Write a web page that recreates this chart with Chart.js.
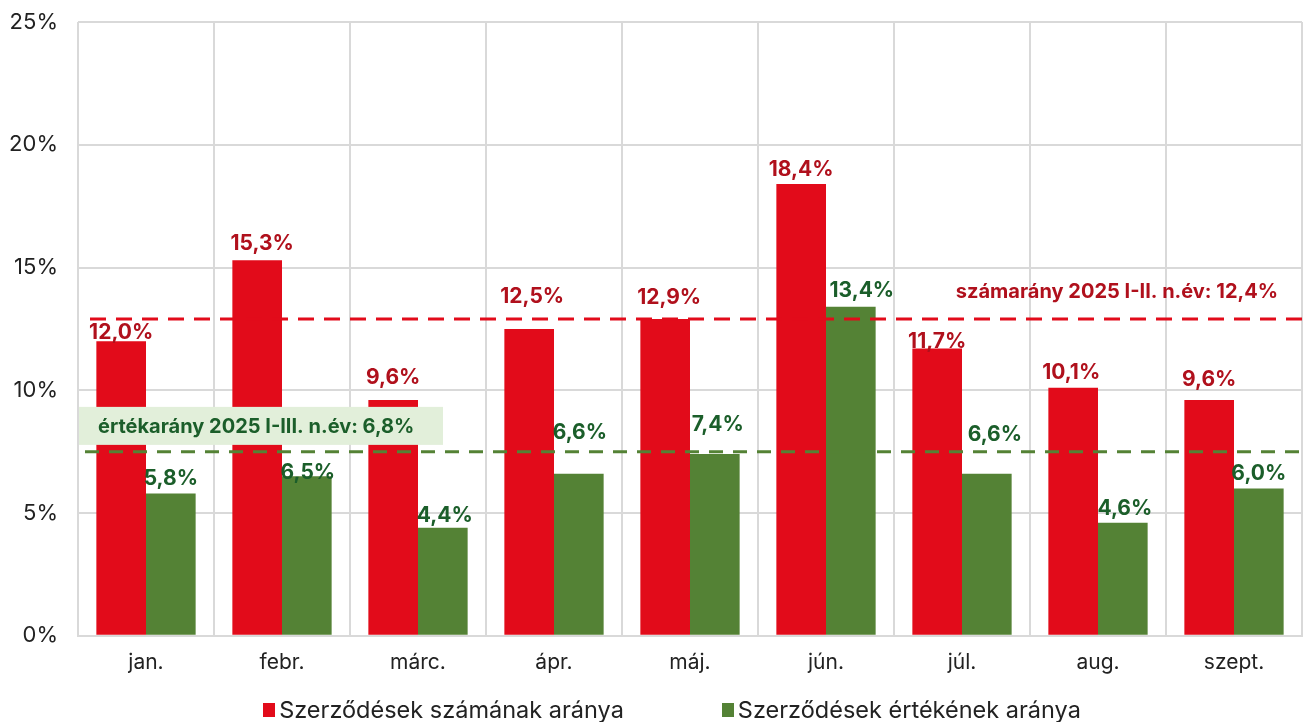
<!DOCTYPE html>
<html>
<head>
<meta charset="utf-8">
<script src="https://cdn.jsdelivr.net/npm/chart.js@4.4.1/dist/chart.umd.min.js"></script>
<style>
  html, body { margin: 0; padding: 0; background: #fff; }
  #wrap { position: relative; width: 1310px; height: 722px; }
  #legend {
    position: absolute; left: 34px; right: 0; top: 695px;
    display: flex; justify-content: center; gap: 98px;
    font-family: Inter, sans-serif; font-size: 23.5px; color: #222;
  }
  #legend span.item { display: flex; align-items: center; }
  #legend i { display: inline-block; width: 12px; height: 14px; margin-right: 4px; }
</style>
</head>
<body>
<div id="wrap">
  <canvas id="c" width="1310" height="722"></canvas>
  <div id="legend"></div>
</div>
<script>
// ─── Data ─────────────────────────────────────────────
const months = ["jan.", "febr.", "márc.", "ápr.", "máj.", "jún.", "júl.", "aug.", "szept."];
const countShare = [12.0, 15.3, 9.6, 12.5, 12.9, 18.4, 11.7, 10.1, 9.6];
const valueShare = [5.8, 6.5, 4.4, 6.6, 7.4, 13.4, 6.6, 4.6, 6.0];
const seriesNames = ["Szerződések számának aránya", "Szerződések értékének aránya"];
const yTicks = [0, 5, 10, 15, 20, 25];
const countAvgLine = 12.9;   // drawn position of the dashed red line
const valueAvgLine = 7.5;    // drawn position of the dashed green line
const countAvgText = "számarány 2025 I-II. n.év: 12,4%";
const valueAvgText = "értékarány 2025 I-III. n.év: 6,8%";

const RED = "#e20b1a";
const GREEN = "#548235";
const RED_TXT = "#b0101c";
const GREEN_TXT = "#1b5e2a";

const pct = (v) => v.toFixed(1).replace(".", ",") + "%";

// per-label nudges so labels dodge the reference lines (px above bar top / px right)
const labelLift = [
  [8, 16, 22, 32, 21, 14, 7, 15, 20],
  [15, 4, 12, 41, 29, 16, 39, 14, 15],
];
const labelShift = [
  [0, 5, 0, 3, 4, 0, 0, -2, 0],
  [0, 1, 2, 1, 3, 11, 8, 2, 0],
];

// ─── Plugins ──────────────────────────────────────────
const refLines = {
  id: "refLines",
  afterDatasetsDraw(chart) {
    const { ctx, chartArea, scales } = chart;
    const y = scales.y;
    ctx.save();
    ctx.lineWidth = 3;

    ctx.strokeStyle = RED;
    ctx.setLineDash([16, 10]);
    let py = y.getPixelForValue(countAvgLine);
    ctx.beginPath();
    ctx.moveTo(chartArea.left + 12, py);
    ctx.lineTo(chart.width, py);
    ctx.stroke();

    ctx.strokeStyle = GREEN;
    ctx.setLineDash([14, 10]);
    py = y.getPixelForValue(valueAvgLine);
    ctx.beginPath();
    ctx.moveTo(chartArea.left + 7, py);
    ctx.lineTo(chartArea.right + 4, py);
    ctx.stroke();
    ctx.setLineDash([]);

    // green caption box
    const by = y.getPixelForValue(8.55);
    ctx.fillStyle = "#e2efda";
    ctx.fillRect(chartArea.left + 1, by - 19, 364, 38);
    ctx.font = "bold 20px Inter, sans-serif";
    ctx.textAlign = "left";
    ctx.textBaseline = "middle";
    ctx.fillStyle = GREEN_TXT;
    ctx.fillText(valueAvgText, chartArea.left + 20, by + 1);

    // red caption
    ctx.fillStyle = RED_TXT;
    ctx.textAlign = "right";
    ctx.fillText(countAvgText, chartArea.right - 24, y.getPixelForValue(14.0));

    // value labels
    ctx.font = "bold 21px Inter, sans-serif";
    ctx.textAlign = "center";
    chart.data.datasets.forEach((ds, di) => {
      const meta = chart.getDatasetMeta(di);
      ctx.fillStyle = di === 0 ? RED_TXT : GREEN_TXT;
      meta.data.forEach((bar, i) => {
        ctx.fillText(pct(ds.data[i]), bar.x + labelShift[di][i], bar.y - labelLift[di][i]);
      });
    });
    ctx.restore();
  },
};

// ─── Chart ────────────────────────────────────────────
const ctx = document.getElementById("c").getContext("2d");
new Chart(ctx, {
  type: "bar",
  data: {
    labels: months,
    datasets: [
      { label: seriesNames[0], data: countShare, backgroundColor: RED },
      { label: seriesNames[1], data: valueShare, backgroundColor: GREEN },
    ],
  },
  options: {
    responsive: false,
    animation: false,
    categoryPercentage: 0.73,
    barPercentage: 1.0,
    layout: { padding: { top: 22, right: 8, bottom: 33, left: 0 } },
    plugins: { legend: { display: false }, tooltip: { enabled: false } },
    scales: {
      x: {
        grid: { color: "#d9d9d9", lineWidth: 2, drawTicks: false },
        border: { color: "#d9d9d9", width: 2 },
        ticks: { color: "#222", font: { family: "Inter, sans-serif", size: 21 }, padding: 14 },
      },
      y: {
        min: 0,
        max: 25,
        afterBuildTicks: (axis) => { axis.ticks = yTicks.map((v) => ({ value: v })); },
        afterFit: (axis) => { axis.width = 78; axis.paddingTop = 0; },
        grid: { color: "#d9d9d9", lineWidth: 2, drawTicks: false },
        border: { display: false },
        ticks: {
          color: "#222",
          font: { family: "Inter, sans-serif", size: 22 },
          padding: 20,
          callback: (v) => v + "%",
        },
      },
    },
  },
  plugins: [refLines],
});

// HTML legend
const legend = document.getElementById("legend");
[RED, GREEN].forEach((col, i) => {
  const s = document.createElement("span");
  s.className = "item";
  s.innerHTML = `<i style="background:${col}"></i>${seriesNames[i]}`;
  legend.appendChild(s);
});
</script>
</body>
</html>
